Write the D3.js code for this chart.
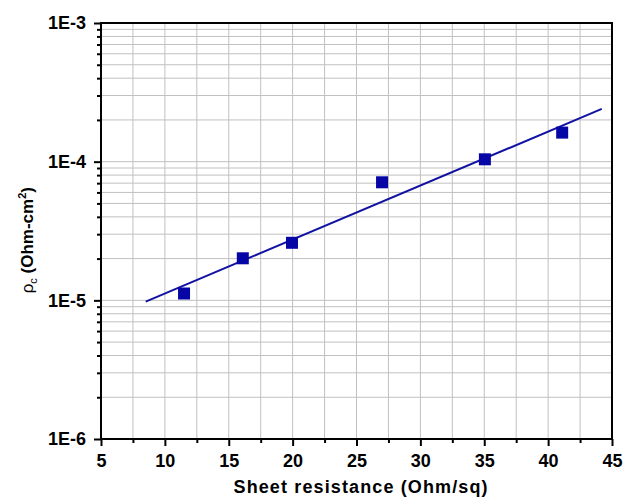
<!DOCTYPE html>
<html>
<head>
<meta charset="utf-8">
<script src="https://cdn.jsdelivr.net/npm/d3@7"></script>
<style>
    body { margin: 0; background: #fff; }
    text { font-family: "Liberation Sans", Arial, sans-serif; font-weight: bold; }
</style>
</head>
<body>
<script>
// measured points
var sheetRes = [11.5, 16.1, 19.95, 27.0, 35.05, 41.1];
var rhoC = [1.12e-5, 2.01e-5, 2.6e-5, 7.1e-5, 1.04e-4, 1.62e-4];

// fitted line end points
var fitX = [8.5, 44.2];
var fitY = [9.8e-6, 2.4e-4];

var xTicks = [5, 10, 15, 20, 25, 30, 35, 40, 45];
var xMinor = [7.5, 12.5, 17.5, 22.5, 27.5, 32.5, 37.5, 42.5];
var yTicks = [1e-6, 1e-5, 1e-4, 1e-3];
var yLabels = ["1E-6", "1E-5", "1E-4", "1E-3"];

window.onload = function() {

    const margins = {top: 23, right: 12, bottom: 58, left: 101},
        width = 624 - margins.left - margins.right,
        height = 497 - margins.top - margins.bottom;

    var svg = d3.select("body").append("svg")
        .attr("width", 624)
        .attr("height", 497)
        .append("g")
        .attr("transform", "translate(" + margins.left + "," + margins.top + ")");

    var xScale = d3.scaleLinear().domain([5, 45]).range([0, width]);
    var yScale = d3.scaleLog().domain([1e-6, 1e-3]).range([height, 0]);

    // minor values on the log axis (2..9 in every decade)
    var yMinor = [];
    yTicks.slice(0, 3).forEach(function(d) {
        for (var k = 2; k <= 9; k++) yMinor.push(d * k);
    });

    // grid
    svg.append("g").selectAll("line.gx")
        .data(xTicks.concat(xMinor))
        .enter().append("line")
        .attr("x1", function(d) { return xScale(d); })
        .attr("x2", function(d) { return xScale(d); })
        .attr("y1", 0).attr("y2", height)
        .attr("stroke", "#c0c0c0").attr("stroke-width", 1);

    svg.append("g").selectAll("line.gy")
        .data(yTicks.concat(yMinor))
        .enter().append("line")
        .attr("x1", 0).attr("x2", width)
        .attr("y1", function(d) { return yScale(d); })
        .attr("y2", function(d) { return yScale(d); })
        .attr("stroke", "#c0c0c0").attr("stroke-width", 1);

    // axes
    svg.append("g")
        .attr("transform", "translate(0," + height + ")")
        .call(d3.axisBottom(xScale).tickValues(xTicks).tickSize(7).tickPadding(8));
    svg.append("g")
        .attr("transform", "translate(0," + height + ")")
        .call(d3.axisBottom(xScale).tickValues(xMinor).tickSize(4).tickFormat(""));

    svg.append("g")
        .call(d3.axisLeft(yScale).tickValues(yTicks).tickSize(7).tickPadding(8)
            .tickFormat(function(d, i) { return yLabels[i]; }));
    svg.append("g")
        .call(d3.axisLeft(yScale).tickValues(yMinor).tickSize(4).tickFormat(""));

    svg.selectAll(".domain").remove();
    svg.selectAll(".tick line").attr("stroke", "#000").attr("stroke-width", 2);
    svg.selectAll(".tick text")
        .attr("fill", "#000")
        .attr("font-size", 18)
        .attr("font-weight", "bold")
        .attr("font-family", "'Liberation Sans', Arial, sans-serif");

    // frame
    svg.append("rect")
        .attr("x", 0).attr("y", 0)
        .attr("width", width).attr("height", height)
        .attr("fill", "none").attr("stroke", "#000").attr("stroke-width", 2);

    // fit line
    var line = d3.line()
        .x(function(d) { return xScale(d[0]); })
        .y(function(d) { return yScale(d[1]); });
    svg.append("path")
        .attr("d", line(fitX.map(function(d, i) { return [d, fitY[i]]; })))
        .attr("fill", "none")
        .attr("stroke", "#1212a2")
        .attr("stroke-width", 2);

    // markers
    var s = 12;
    svg.append("g").selectAll("rect")
        .data(sheetRes)
        .enter().append("rect")
        .attr("x", function(d) { return xScale(d) - s / 2; })
        .attr("y", function(d, i) { return yScale(rhoC[i]) - s / 2; })
        .attr("width", s).attr("height", s)
        .attr("fill", "#0606a6");

    // axis titles
    svg.append("text")
        .attr("x", width / 2 + 4)
        .attr("y", height + 54)
        .attr("text-anchor", "middle")
        .attr("textLength", 254)
        .style("font-size", "18px")
        .text("Sheet resistance (Ohm/sq)");

    var yt = svg.append("text")
        .attr("transform", "translate(" + (-68) + "," + (yScale(2.9e-5) + 4) + ") rotate(-90)")
        .attr("text-anchor", "middle")
        .style("font-size", "17px");
    yt.append("tspan").style("font-weight", "normal").text("ρ");
    yt.append("tspan").attr("dy", 4).style("font-size", "11px").style("font-weight", "normal").text("c");
    yt.append("tspan").attr("dy", -4).text(" (Ohm-cm");
    yt.append("tspan").attr("dy", -7).style("font-size", "11px").text("2");
    yt.append("tspan").attr("dy", 7).text(")");
};
</script>
</body>
</html>
